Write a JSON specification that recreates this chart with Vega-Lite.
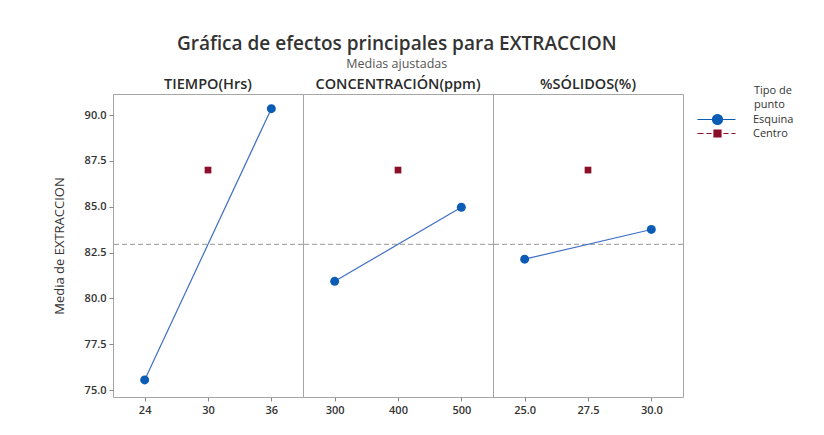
{
  "$schema": "https://vega.github.io/schema/vega-lite/v6.json",
  "background": "white",
  "padding": {"left": 52, "top": 34, "right": 10, "bottom": 5},
  "bounds": "flush",
  "title": {
    "text": "Gráfica de efectos principales para EXTRACCION",
    "subtitle": "Medias ajustadas",
    "anchor": "middle",
    "dx": -31,
    "font": "Open Sans",
    "fontSize": 19,
    "fontWeight": 600,
    "color": "#333333",
    "subtitleFont": "Open Sans",
    "subtitleFontSize": 12.5,
    "subtitleColor": "#555555",
    "subtitlePadding": 4,
    "offset": 6
  },
  "datasets": {
    "medias": [
      {"factor": "TIEMPO(Hrs)", "nivel": 24, "media": 75.55, "tipo": "Esquina"},
      {"factor": "TIEMPO(Hrs)", "nivel": 36, "media": 90.35, "tipo": "Esquina"},
      {"factor": "TIEMPO(Hrs)", "nivel": 30, "media": 87.0, "tipo": "Centro"},
      {"factor": "CONCENTRACIÓN(ppm)", "nivel": 300, "media": 80.93, "tipo": "Esquina"},
      {"factor": "CONCENTRACIÓN(ppm)", "nivel": 500, "media": 84.97, "tipo": "Esquina"},
      {"factor": "CONCENTRACIÓN(ppm)", "nivel": 400, "media": 87.0, "tipo": "Centro"},
      {"factor": "%SÓLIDOS(%)", "nivel": 25.0, "media": 82.14, "tipo": "Esquina"},
      {"factor": "%SÓLIDOS(%)", "nivel": 30.0, "media": 83.76, "tipo": "Esquina"},
      {"factor": "%SÓLIDOS(%)", "nivel": 27.5, "media": 87.0, "tipo": "Centro"}
    ],
    "global": [{"media": 82.95}],
    "leyenda": [
      {"nivel": 27.5, "media": 100, "tipo": "Esquina"},
      {"nivel": 27.5, "media": 100, "tipo": "Centro"}
    ]
  },
  "spacing": 0,
  "columns": 3,
  "concat": [
    {
      "width": 190, "height": 18,
      "data": {"values": [{"h": "TIEMPO(Hrs)"}]},
      "mark": {"type": "text", "font": "Open Sans", "fontSize": 14.5, "fontWeight": 600, "color": "#2a2a2a", "baseline": "middle"},
      "encoding": {"text": {"field": "h"}}
    },
    {
      "width": 190, "height": 18,
      "data": {"values": [{"h": "CONCENTRACIÓN(ppm)"}]},
      "mark": {"type": "text", "font": "Open Sans", "fontSize": 14.5, "fontWeight": 600, "color": "#2a2a2a", "baseline": "middle"},
      "encoding": {"text": {"field": "h"}}
    },
    {
      "width": 190, "height": 18,
      "data": {"values": [{"h": "%SÓLIDOS(%)"}]},
      "mark": {"type": "text", "font": "Open Sans", "fontSize": 14.5, "fontWeight": 600, "color": "#2a2a2a", "baseline": "middle"},
      "encoding": {"text": {"field": "h"}}
    },
    {
      "width": 190, "height": 303,
      "layer": [
        {
          "data": {"name": "global"},
          "mark": {"type": "rule", "color": "#959595", "strokeDash": [5, 3], "strokeWidth": 1},
          "encoding": {
            "y": {"field": "media", "type": "quantitative", "scale": {"domain": [74.62, 91.15], "nice": false, "zero": false},
              "axis": {"title": "Media de EXTRACCION", "values": [75, 77.5, 80, 82.5, 85, 87.5, 90], "format": ".1f", "grid": false, "domain": false,
                "tickColor": "#888888", "tickSize": 4, "labelPadding": 3, "labelFont": "Open Sans", "labelFontSize": 11, "labelFontWeight": 600, "labelColor": "#333333",
                "titleFont": "Open Sans", "titleFontSize": 13, "titleFontWeight": "normal", "titleColor": "#333333", "titlePadding": 18}}
          }
        },
        {
          "data": {"name": "medias"},
          "transform": [{"filter": "datum.factor === 'TIEMPO(Hrs)' && datum.tipo === 'Esquina'"}],
          "mark": {"type": "line", "color": "#3f6fc6", "strokeWidth": 1.2},
          "encoding": {
            "x": {"field": "nivel", "type": "quantitative", "scale": {"domain": [21, 39], "nice": false, "zero": false},
              "axis": {"title": null, "values": [24, 30, 36], "format": "d", "grid": false, "domain": false, "tickColor": "#888888", "tickSize": 4,
                "labelFont": "Open Sans", "labelFontSize": 11, "labelFontWeight": 600, "labelColor": "#333333", "labelPadding": 3}},
            "y": {"field": "media", "type": "quantitative"}
          }
        },
        {
          "data": {"name": "medias"},
          "transform": [{"filter": "datum.factor === 'TIEMPO(Hrs)' && datum.tipo === 'Esquina'"}],
          "mark": {"type": "point", "shape": "circle", "filled": true, "opacity": 1, "size": 80, "color": "#0b5cb5"},
          "encoding": {
            "x": {"field": "nivel", "type": "quantitative"},
            "y": {"field": "media", "type": "quantitative"}
          }
        },
        {
          "data": {"name": "medias"},
          "transform": [{"filter": "datum.factor === 'TIEMPO(Hrs)' && datum.tipo === 'Centro'"}],
          "mark": {"type": "point", "shape": "square", "filled": true, "opacity": 1, "size": 45, "color": "#8c0f2a"},
          "encoding": {
            "x": {"field": "nivel", "type": "quantitative"},
            "y": {"field": "media", "type": "quantitative"}
          }
        }
      ]
    },
    {
      "width": 190, "height": 303,
      "layer": [
        {
          "data": {"name": "global"},
          "mark": {"type": "rule", "color": "#959595", "strokeDash": [5, 3], "strokeWidth": 1},
          "encoding": {
            "y": {"field": "media", "type": "quantitative", "scale": {"domain": [74.62, 91.15], "nice": false, "zero": false}, "axis": null}
          }
        },
        {
          "data": {"name": "medias"},
          "transform": [{"filter": "datum.factor === 'CONCENTRACIÓN(ppm)' && datum.tipo === 'Esquina'"}],
          "mark": {"type": "line", "color": "#3f6fc6", "strokeWidth": 1.2},
          "encoding": {
            "x": {"field": "nivel", "type": "quantitative", "scale": {"domain": [250, 550], "nice": false, "zero": false},
              "axis": {"title": null, "values": [300, 400, 500], "format": "d", "grid": false, "domain": false, "tickColor": "#888888", "tickSize": 4,
                "labelFont": "Open Sans", "labelFontSize": 11, "labelFontWeight": 600, "labelColor": "#333333", "labelPadding": 3}},
            "y": {"field": "media", "type": "quantitative"}
          }
        },
        {
          "data": {"name": "medias"},
          "transform": [{"filter": "datum.factor === 'CONCENTRACIÓN(ppm)' && datum.tipo === 'Esquina'"}],
          "mark": {"type": "point", "shape": "circle", "filled": true, "opacity": 1, "size": 80, "color": "#0b5cb5"},
          "encoding": {
            "x": {"field": "nivel", "type": "quantitative"},
            "y": {"field": "media", "type": "quantitative"}
          }
        },
        {
          "data": {"name": "medias"},
          "transform": [{"filter": "datum.factor === 'CONCENTRACIÓN(ppm)' && datum.tipo === 'Centro'"}],
          "mark": {"type": "point", "shape": "square", "filled": true, "opacity": 1, "size": 45, "color": "#8c0f2a"},
          "encoding": {
            "x": {"field": "nivel", "type": "quantitative"},
            "y": {"field": "media", "type": "quantitative"}
          }
        }
      ]
    },
    {
      "width": 190, "height": 303,
      "layer": [
        {
          "data": {"name": "global"},
          "mark": {"type": "rule", "color": "#959595", "strokeDash": [5, 3], "strokeWidth": 1},
          "encoding": {
            "y": {"field": "media", "type": "quantitative", "scale": {"domain": [74.62, 91.15], "nice": false, "zero": false}, "axis": null}
          }
        },
        {
          "data": {"name": "medias"},
          "transform": [{"filter": "datum.factor === '%SÓLIDOS(%)' && datum.tipo === 'Esquina'"}],
          "mark": {"type": "line", "color": "#3f6fc6", "strokeWidth": 1.2},
          "encoding": {
            "x": {"field": "nivel", "type": "quantitative", "scale": {"domain": [23.75, 31.25], "nice": false, "zero": false},
              "axis": {"title": null, "values": [25, 27.5, 30], "format": ".1f", "grid": false, "domain": false, "tickColor": "#888888", "tickSize": 4,
                "labelFont": "Open Sans", "labelFontSize": 11, "labelFontWeight": 600, "labelColor": "#333333", "labelPadding": 3}},
            "y": {"field": "media", "type": "quantitative"}
          }
        },
        {
          "data": {"name": "medias"},
          "transform": [{"filter": "datum.factor === '%SÓLIDOS(%)' && datum.tipo === 'Esquina'"}],
          "mark": {"type": "point", "shape": "circle", "filled": true, "opacity": 1, "size": 80, "color": "#0b5cb5"},
          "encoding": {
            "x": {"field": "nivel", "type": "quantitative"},
            "y": {"field": "media", "type": "quantitative"}
          }
        },
        {
          "data": {"name": "medias"},
          "transform": [{"filter": "datum.factor === '%SÓLIDOS(%)' && datum.tipo === 'Centro'"}],
          "mark": {"type": "point", "shape": "square", "filled": true, "opacity": 1, "size": 45, "color": "#8c0f2a"},
          "encoding": {
            "x": {"field": "nivel", "type": "quantitative"},
            "y": {"field": "media", "type": "quantitative"}
          }
        },
        {
          "data": {"name": "leyenda"},
          "mark": {"type": "point", "filled": true, "opacity": 1, "clip": true, "size": 64, "strokeWidth": 1.2},
          "encoding": {
            "x": {"field": "nivel", "type": "quantitative"},
            "y": {"field": "media", "type": "quantitative"},
            "fill": {"field": "tipo", "type": "nominal", "scale": {"domain": ["Esquina", "Centro"], "range": ["#0b5cb5", "#8c0f2a"]},
              "legend": {"title": ["Tipo de", "punto"], "titleFont": "Open Sans", "titleFontSize": 11, "titleFontWeight": "normal", "titleColor": "#333333",
                "labelFont": "Open Sans", "labelFontSize": 11, "labelColor": "#333333", "labelOffset": -12, "symbolSize": 64, "symbolStrokeWidth": 1.2,
                "offset": 61, "padding": 9, "rowPadding": 0, "titlePadding": 4, "titleLineHeight": 14}},
            "stroke": {"field": "tipo", "type": "nominal", "scale": {"domain": ["Esquina", "Centro"], "range": ["#0b5cb5", "#8c0f2a"]},
              "legend": {"title": ["Tipo de", "punto"]}},
            "shape": {"field": "tipo", "type": "nominal", "scale": {"domain": ["Esquina", "Centro"],
              "range": ["M-15.5,0H-6M-11.75,0A1.25,1.25 0 1,0 -9.25,0A1.25,1.25 0 1,0 -11.75,0Z", "M-15.5,0H-14M-13.25,0H-12M-9,0H-7.75M-7,0H-6M-11.375,-0.875H-9.625V0.875H-11.375Z"]},
              "legend": {"title": ["Tipo de", "punto"]}}
          }
        }
      ]
    }
  ],
  "config": {
    "view": {"stroke": "#a6a6a6", "strokeWidth": 1},
    "legend": {"orient": "right"}
  }
}
